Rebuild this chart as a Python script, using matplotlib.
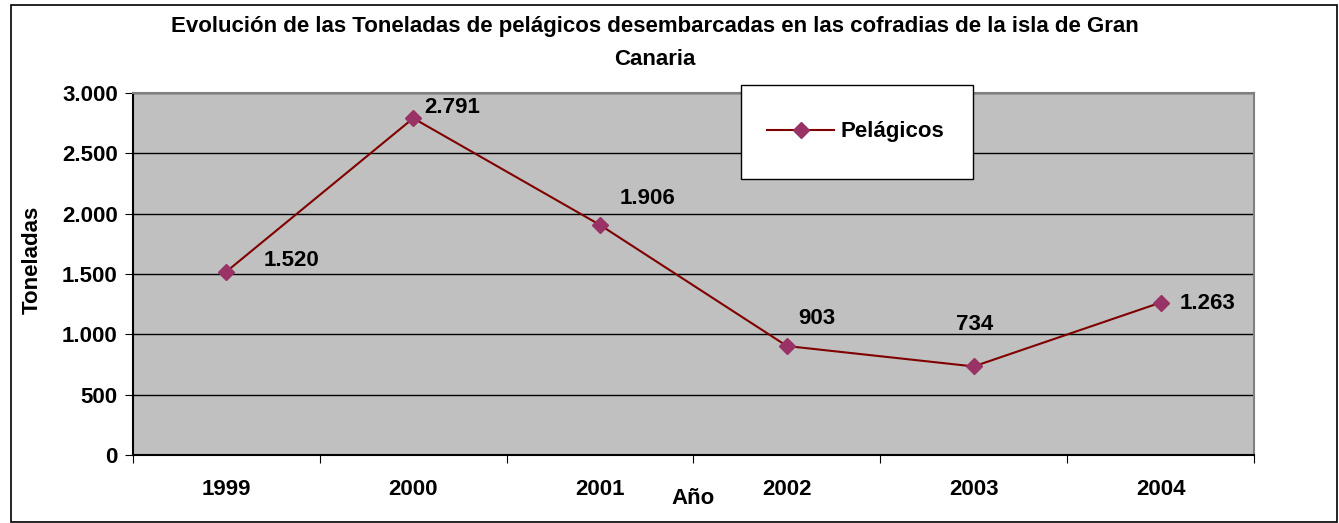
import matplotlib.pyplot as plt
from matplotlib.patches import Rectangle
from matplotlib.ticker import FuncFormatter, MultipleLocator

# Data
years = ["1999", "2000", "2001", "2002", "2003", "2004"]
toneladas = [1520, 2791, 1906, 903, 734, 1263]
value_labels = ["1.520", "2.791", "1.906", "903", "734", "1.263"]

# label offsets (points) relative to each marker, as Excel placed them
label_offsets = [(27, 8), (8, 8), (14, 19), (8, 20), (-13, 30), (14, -1)]

plt.rcParams['font.family'] = ['Liberation Sans', 'DejaVu Sans']
plt.rcParams['font.weight'] = 'bold'
FS = 16

fig = plt.figure(figsize=(13.39, 5.23), dpi=100)
ax = fig.add_axes([133 / 1339, 1 - 455 / 523, 1121 / 1339, 362 / 523])
ax.set_facecolor('#C0C0C0')

x = range(len(years))
ax.plot(x, toneladas, color='#800000', linewidth=1.5, marker='D', markersize=8.5,
        markerfacecolor='#993366', markeredgecolor='#993366', label='Pelágicos', zorder=3)

for i, (v, lab) in enumerate(zip(toneladas, value_labels)):
    ax.annotate(lab, (i, v), xytext=label_offsets[i], textcoords='offset points',
                fontsize=FS, fontweight='bold', ha='left', va='center')

ax.set_xlim(-0.5, len(years) - 0.5)
ax.set_ylim(0, 3000)
ax.yaxis.set_major_locator(MultipleLocator(500))
ax.yaxis.set_major_formatter(FuncFormatter(lambda v, p: f"{int(v):,}".replace(",", ".")))
ax.grid(axis='y', color='black', linewidth=1)
ax.set_axisbelow(True)

ax.set_xticks([i - 0.5 for i in range(len(years) + 1)])
ax.set_xticklabels([])
ax.set_xticks(list(x), minor=True)
ax.set_xticklabels(years, minor=True)
ax.tick_params(axis='x', which='major', direction='out', length=6, color='black')
ax.tick_params(axis='x', which='minor', length=0, pad=17, labelsize=FS)
ax.tick_params(axis='y', direction='out', length=6, labelsize=FS, pad=5)

ax.spines['left'].set_color('black')
ax.spines['bottom'].set_color('black')
ax.spines['top'].set_color('#808080')
ax.spines['right'].set_color('#808080')
for s in ax.spines.values():
    s.set_linewidth(1.5)

ax.set_xlabel('Año', fontsize=FS, fontweight='bold', va='center')
ax.xaxis.set_label_coords(0.5, -(498 - 455) / 362)
ax.set_ylabel('Toneladas', fontsize=FS, fontweight='bold', va='center')
ax.yaxis.set_label_coords((32 - 133) / 1121, 0.54)

fig.text(655 / 1339, 1 - 16 / 523,
         "Evolución de las Toneladas de pelágicos desembarcadas en las cofradias de la isla de Gran\nCanaria",
         ha='center', va='top', fontsize=FS, fontweight='bold', linespacing=1.75)

# legend box
fig.patches.append(Rectangle((741 / 1339, 1 - 179 / 523), 232 / 1339, 94 / 523,
                             transform=fig.transFigure, facecolor='white',
                             edgecolor='black', linewidth=1, zorder=5))
leg = fig.legend(loc='center', bbox_to_anchor=(856 / 1339, 1 - 132 / 523),
                 frameon=False, fontsize=FS, handlelength=3.0, handletextpad=0.3)
leg.set_zorder(6)

# outer chart border
fig.patches.append(Rectangle((11 / 1339, 0.002), 1326 / 1339, 1 - 5 / 523 - 0.002,
                             transform=fig.transFigure, facecolor='none',
                             edgecolor='black', linewidth=1.2))

plt.savefig("out.png")
